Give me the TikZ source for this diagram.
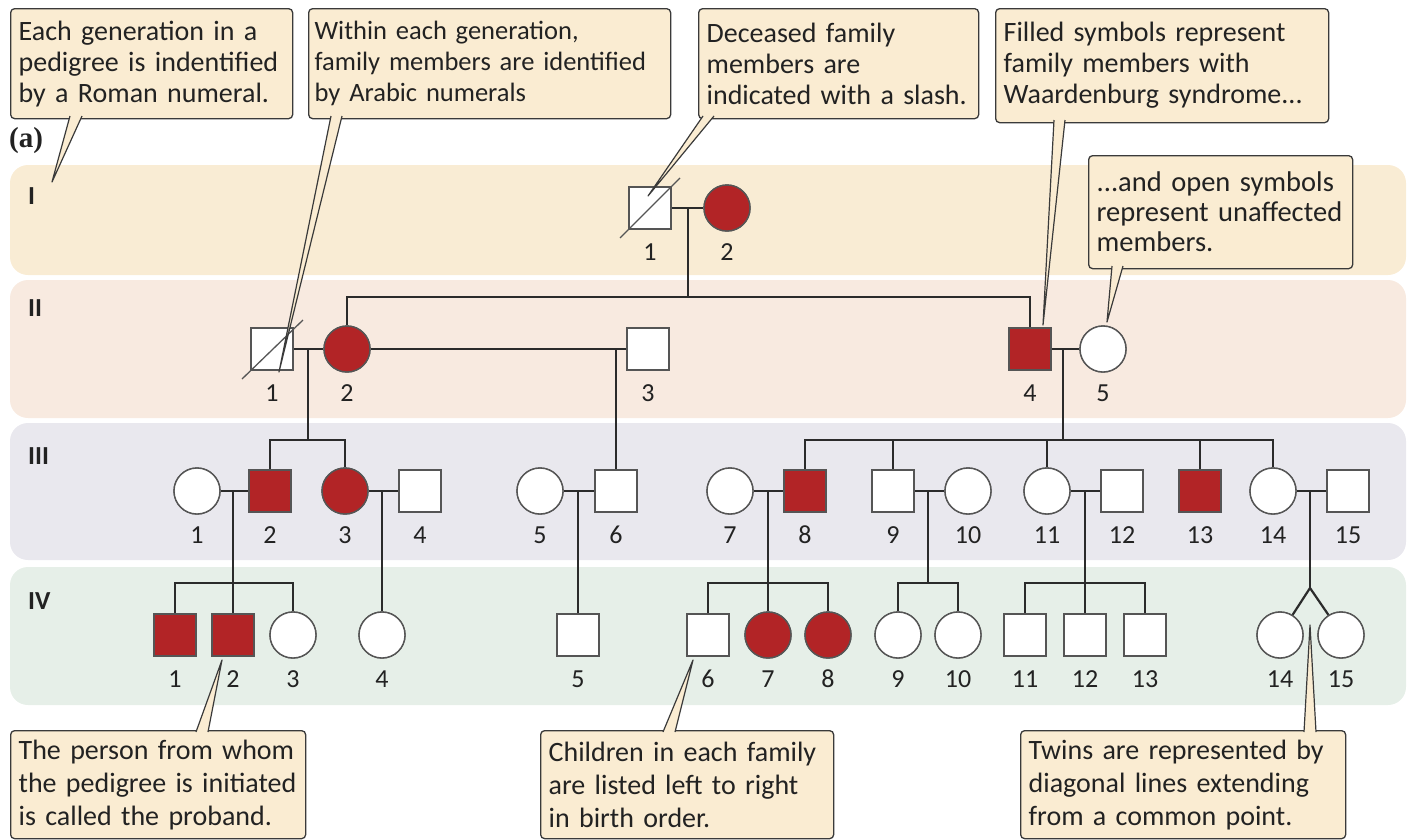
\documentclass[tikz,border=0pt]{standalone}
\usepackage{fontspec}
\setmainfont{Carlito}
\newfontfamily\serifbold{Liberation Serif}
\usetikzlibrary{calc}

\definecolor{bandI}{HTML}{F9ECD4}
\definecolor{bandII}{HTML}{F8EAE0}
\definecolor{bandIII}{HTML}{E9E8EE}
\definecolor{bandIV}{HTML}{E6EFE8}
\definecolor{callfill}{HTML}{FAECD2}
\definecolor{callline}{HTML}{3A3A3A}
\definecolor{affred}{HTML}{B22426}
\definecolor{pedline}{HTML}{2B2B2B}
\definecolor{symline}{HTML}{555555}
\definecolor{inktext}{HTML}{222222}

% one person: name, x, y, symbol style, number printed below
\newcommand\person[5]{%
  \node[#4] (#1) at (#2,#3) {};
  \node[num] (#1n) at (#2,#3+44) {#5};}

\tikzset{
  band/.style={rounded corners=18pt},
  gen/.style={font=\fontsize{26}{26}\selectfont\bfseries, text=inktext, anchor=west, inner sep=0pt},
  sq/.style={rectangle, draw=symline, line width=1.4pt, fill=white, minimum size=42pt, inner sep=0pt},
  ci/.style={circle, draw=symline, line width=1.4pt, fill=white, minimum size=46pt, inner sep=0pt},
  aff/.style={fill=affred},
  rel/.style={draw=pedline, line width=2.2pt},
  slash/.style={draw=symline, line width=1.3pt},
  num/.style={font=\fontsize{26}{26}\selectfont, text=inktext, inner sep=0pt},
  callout/.style={rectangle, rounded corners=4pt, draw=callline, line width=1.3pt, fill=callfill,
    anchor=north west, inner xsep=8pt, inner ysep=4pt, align=left, text=inktext,
    font=\fontsize{28}{31}\selectfont},
  callbot/.style={callout, font=\fontsize{28}{33}\selectfont},
  wedgefill/.style={fill=callfill},
  wedgeline/.style={draw=callline, line width=1.2pt, line join=round},
}

\begin{document}
\begin{tikzpicture}[x=1pt,y=-1pt]
\useasboundingbox (0,0) rectangle (1408,839);

% generation bands
\fill[bandI,band]   (10,165) rectangle (1406,275);
\fill[bandII,band]  (10,280) rectangle (1406,418);
\fill[bandIII,band] (10,423) rectangle (1406,560);
\fill[bandIV,band]  (10,567) rectangle (1406,705);

\node[gen] (gI)   at (28,196) {I};
\node[gen] (gII)  at (28,308) {II};
\node[gen] (gIII) at (28,456) {III};
\node[gen] (gIV)  at (28,601) {IV};
\node[font=\serifbold\bfseries\fontsize{29}{29}\selectfont, text=inktext, anchor=west, inner sep=0pt] (panel) at (9,141) {(a)};

% generation I
\person{I1}{650}{208}{sq}{1}
\person{I2}{727}{208}{ci,aff}{2}

% generation II
\person{II1}{272}{349}{sq}{1}
\person{II2}{347}{349}{ci,aff}{2}
\person{II3}{648}{349}{sq}{3}
\person{II4}{1030}{349}{sq,aff}{4}
\person{II5}{1103}{349}{ci}{5}

% generation III
\person{III1}{197}{491}{ci}{1}
\person{III2}{270}{491}{sq,aff}{2}
\person{III3}{345}{491}{ci,aff}{3}
\person{III4}{420}{491}{sq}{4}
\person{III5}{540}{491}{ci}{5}
\person{III6}{616}{491}{sq}{6}
\person{III7}{730}{491}{ci}{7}
\person{III8}{805}{491}{sq,aff}{8}
\person{III9}{893}{491}{sq}{9}
\person{III10}{968}{491}{ci}{10}
\person{III11}{1047}{491}{ci}{11}
\person{III12}{1122}{491}{sq}{12}
\person{III13}{1200}{491}{sq,aff}{13}
\person{III14}{1273}{491}{ci}{14}
\person{III15}{1348}{491}{sq}{15}

% generation IV
\person{IV1}{175}{635}{sq,aff}{1}
\person{IV2}{233}{635}{sq,aff}{2}
\person{IV3}{293}{635}{ci}{3}
\person{IV4}{382}{635}{ci}{4}
\person{IV5}{578}{635}{sq}{5}
\person{IV6}{708}{635}{sq}{6}
\person{IV7}{768}{635}{ci,aff}{7}
\person{IV8}{828}{635}{ci,aff}{8}
\person{IV9}{898}{635}{ci}{9}
\person{IV10}{958}{635}{ci}{10}
\person{IV11}{1025}{635}{sq}{11}
\person{IV12}{1085}{635}{sq}{12}
\person{IV13}{1145}{635}{sq}{13}
\person{IV14}{1280}{635}{ci}{14}
\person{IV15}{1341}{635}{ci}{15}

% mating and sibship junctions
\coordinate (mI)     at (688,208);
\coordinate (sII)    at (688,297);
\coordinate (mII12)  at (308,349);
\coordinate (sIIIa)  at (308,440);
\coordinate (mII23)  at (616,349);
\coordinate (mII45)  at (1063,349);
\coordinate (sIIIb)  at (1063,440);
\coordinate (mIII12) at (233,491);
\coordinate (sIVa)   at (233,583);
\coordinate (mIII34) at (382,491);
\coordinate (mIII56) at (578,491);
\coordinate (mIII78) at (768,491);
\coordinate (sIVb)   at (768,583);
\coordinate (mIII910) at (928,491);
\coordinate (sIVc)   at (928,583);
\coordinate (mIII1112) at (1085,491);
\coordinate (sIVd)   at (1085,583);
\coordinate (mIII1415) at (1310,491);
\coordinate (twin)   at (1310,588);

% generation I family
\draw[rel] (I1.east) -- (I2.west);
\draw[rel] (mI) -- (sII);
\draw[rel] (II2.north) |- (sII) -| (II4.north);
% generation II families
\draw[rel] (II1.east) -- (II2.west);
\draw[rel] (mII12) -- (sIIIa);
\draw[rel] (III2.north) |- (sIIIa) -| (III3.north);
\draw[rel] (II2.east) -- (II3.west);
\draw[rel] (mII23) -- (III6.north);
\draw[rel] (II4.east) -- (II5.west);
\draw[rel] (mII45) -- (sIIIb);
\draw[rel] (III8.north) |- (sIIIb) -| (III14.north);
\draw[rel] (III9.north) -- (III9.north |- sIIIb);
\draw[rel] (III11.north) -- (III11.north |- sIIIb);
\draw[rel] (III13.north) -- (III13.north |- sIIIb);
% generation III families
\draw[rel] (III1.east) -- (III2.west);
\draw[rel] (mIII12) -- (IV2.north);
\draw[rel] (IV1.north) |- (sIVa) -| (IV3.north);
\draw[rel] (III3.east) -- (III4.west);
\draw[rel] (mIII34) -- (IV4.north);
\draw[rel] (III5.east) -- (III6.west);
\draw[rel] (mIII56) -- (IV5.north);
\draw[rel] (III7.east) -- (III8.west);
\draw[rel] (mIII78) -- (IV7.north);
\draw[rel] (IV6.north) |- (sIVb) -| (IV8.north);
\draw[rel] (III9.east) -- (III10.west);
\draw[rel] (mIII910) -- (sIVc);
\draw[rel] (IV9.north) |- (sIVc) -| (IV10.north);
\draw[rel] (III11.east) -- (III12.west);
\draw[rel] (mIII1112) -- (IV12.north);
\draw[rel] (IV11.north) |- (sIVd) -| (IV13.north);
\draw[rel] (III14.east) -- (III15.west);
\draw[rel] (mIII1415) -- (twin);
\draw[rel] (twin) -- (IV14.58);
\draw[rel] (twin) -- (IV15.122);

% redraw symbols over the junction lines
\foreach \p/\s in {I1/sq,II1/sq,II3/sq,III4/sq,III6/sq,III9/sq,III12/sq,III15/sq,IV5/sq,IV6/sq,IV11/sq,IV12/sq,IV13/sq,
                   II5/ci,III1/ci,III5/ci,III7/ci,III10/ci,III11/ci,III14/ci,IV3/ci,IV4/ci,IV9/ci,IV10/ci,IV14/ci,IV15/ci}
  \node[\s] at (\p) {};
\foreach \p/\s in {II4/sq,III2/sq,III8/sq,III13/sq,IV1/sq,IV2/sq,I2/ci,II2/ci,III3/ci,IV7/ci,IV8/ci}
  \node[\s,aff] at (\p) {};

% deceased slashes
\draw[slash] ($(I1)+(-30,30)$) -- ($(I1)+(30,-30)$);
\draw[slash] ($(II1)+(-30,30)$) -- ($(II1)+(31,-29)$);

% callouts
\node[callout, minimum width=282pt, minimum height=110pt, text width=266pt] (cA) at (10,8)
  {Each generation in a\\pedigree is indentified\\by a Roman numeral.};
\node[callout, inner xsep=6pt, minimum width=362pt, minimum height=110pt, text width=350pt,
      font=\fontsize{26.5}{31}\selectfont] (cB) at (308,8)
  {Within each generation,\\family members are identified\\by Arabic numerals};
\node[callout, minimum width=280pt, minimum height=110pt, text width=264pt] (cC) at (698,8)
  {Deceased family\\members are\\indicated with a slash.};
\node[callout, minimum width=333pt, minimum height=114pt, text width=317pt] (cD) at (995,8)
  {Filled symbols represent\\family members with\\Waardenburg syndrome...};
\node[callout, minimum width=264pt, minimum height=113pt, text width=248pt,
      font=\fontsize{28.5}{30}\selectfont] (cE) at (1088,155)
  {...and open symbols\\represent unaffected\\members.};
\node[callbot, minimum width=295pt, minimum height=108pt, text width=279pt] (cF) at (10,730)
  {The person from whom\\the pedigree is initiated\\is called the proband.};
\node[callbot, minimum width=293pt, minimum height=108pt, text width=277pt] (cG) at (540,730)
  {Children in each family\\are listed left to right\\in birth order.};
\node[callbot, minimum width=325pt, minimum height=108pt, text width=309pt] (cH) at (1020,730)
  {Twins are represented by\\diagonal lines extending\\from a common point.};

% callout pointers: base on the box edge, tip at the feature
\coordinate (bA1) at (70,116);   \coordinate (bA2) at (82,116);   \coordinate (tA) at (52,182);
\coordinate (bB1) at (331,116);  \coordinate (bB2) at (342,116);  \coordinate (tB) at (279,372);
\coordinate (bC1) at (703,116);  \coordinate (bC2) at (714,116);  \coordinate (tC) at (648,196);
\coordinate (bD1) at (1054,120); \coordinate (bD2) at (1065,120); \coordinate (tD) at (1043,325);
\coordinate (bE1) at (1112,266); \coordinate (bE2) at (1123,266); \coordinate (tE) at (1107,322);
\coordinate (bF1) at (196,732);  \coordinate (bF2) at (208,732);  \coordinate (tF) at (222,660);
\coordinate (bG1) at (663,732);  \coordinate (bG2) at (675,732);  \coordinate (tG) at (693,660);
\coordinate (bH1) at (1304,732); \coordinate (bH2) at (1316,732); \coordinate (tH) at (1310,625);
\foreach \w in {A,B,C,D,E,F,G,H}{
  \fill[wedgefill] (b\w1) -- (t\w) -- (b\w2) -- cycle;
  \draw[wedgeline] (b\w1) -- (t\w) -- (b\w2);
}
\end{tikzpicture}
\end{document}
